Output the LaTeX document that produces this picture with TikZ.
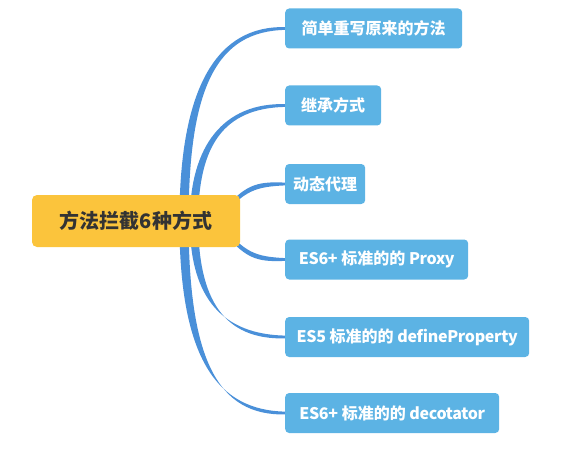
\documentclass[tikz,border=0pt]{standalone}
\usepackage{fontspec}
\setmainfont{Noto Sans CJK SC}
\usetikzlibrary{calc,backgrounds}
\definecolor{leafblue}{HTML}{5CB3E4}
\definecolor{linkblue}{HTML}{4A90D9}
\definecolor{rootyellow}{HTML}{FBC43C}
\definecolor{roottext}{HTML}{333333}
\newcommand{\lt}[1]{{\addfontfeature{LetterSpace=-2}#1}}
\newcommand{\twigfill}[5]{%
  \fill[twig] ($(#1)-#5$) .. controls ($#2-#5$) and ($#3+(0,-2.8)$) .. ($(#4.west)+(0,-1.4)$)
    -- ($(#4.west)+(0,1.4)$) .. controls ($#3+(0,2.8)$) and ($#2+#5$) .. ($(#1)+#5$) -- cycle;}
\tikzset{
  leaf/.style={fill=leafblue, rounded corners=4pt, text=white,
    font=\bfseries\fontsize{16}{19}\selectfont, inner xsep=8pt, inner ysep=0pt,
    minimum height=40pt, anchor=west},
  rootnode/.style={fill=rootyellow, rounded corners=5pt, text=roottext,
    font=\bfseries\fontsize{20}{24}\selectfont, minimum width=208pt, minimum height=52pt, inner sep=0pt},
  twig/.style={fill=linkblue}
}
\begin{document}
\begin{tikzpicture}[x=1pt,y=-1pt]
\useasboundingbox (0,0) rectangle (585,449);
\node[rootnode] (root) at (136,221) {方法拦截6种方式};
\node[leaf, minimum width=177pt] (n1) at (285,28.5) {简单重写原来的方法};
\node[leaf, minimum width=96pt] (n2) at (285,105.5) {继承方式};
\node[leaf, minimum width=73pt] (n3) at (285,184) {动态代理};
\node[leaf, minimum width=183pt] (n4) at (285,259.5) {\lt{ES6+} 标准的的 \lt{Proxy}};
\node[leaf, minimum width=244pt] (n5) at (285,337) {\lt{ES5} 标准的的 \lt{defineProperty}};
\node[leaf, minimum width=214pt] (n6) at (285,413) {\lt{ES6+} 标准的的 \lt{decotator}};
\coordinate (s1) at (184,221);
\coordinate (s2) at (194,221);
\coordinate (s3) at (222,214);
\coordinate (s4) at (222,228);
\coordinate (s5) at (194,221);
\coordinate (s6) at (184,221);
\begin{pgfonlayer}{background}
\twigfill{s1}{(184,85)}{(218,28.5)}{n1}{(4.6,0)}
\twigfill{s2}{(194,145)}{(224,105.5)}{n2}{(4.2,0)}
\twigfill{s3}{(245,188)}{(255,184)}{n3}{(0,2.6)}
\twigfill{s4}{(245,255)}{(255,259.5)}{n4}{(0,2.6)}
\twigfill{s5}{(194,300)}{(224,337)}{n5}{(4.2,0)}
\twigfill{s6}{(184,360)}{(218,413)}{n6}{(4.6,0)}
\end{pgfonlayer}
\end{tikzpicture}
\end{document}
